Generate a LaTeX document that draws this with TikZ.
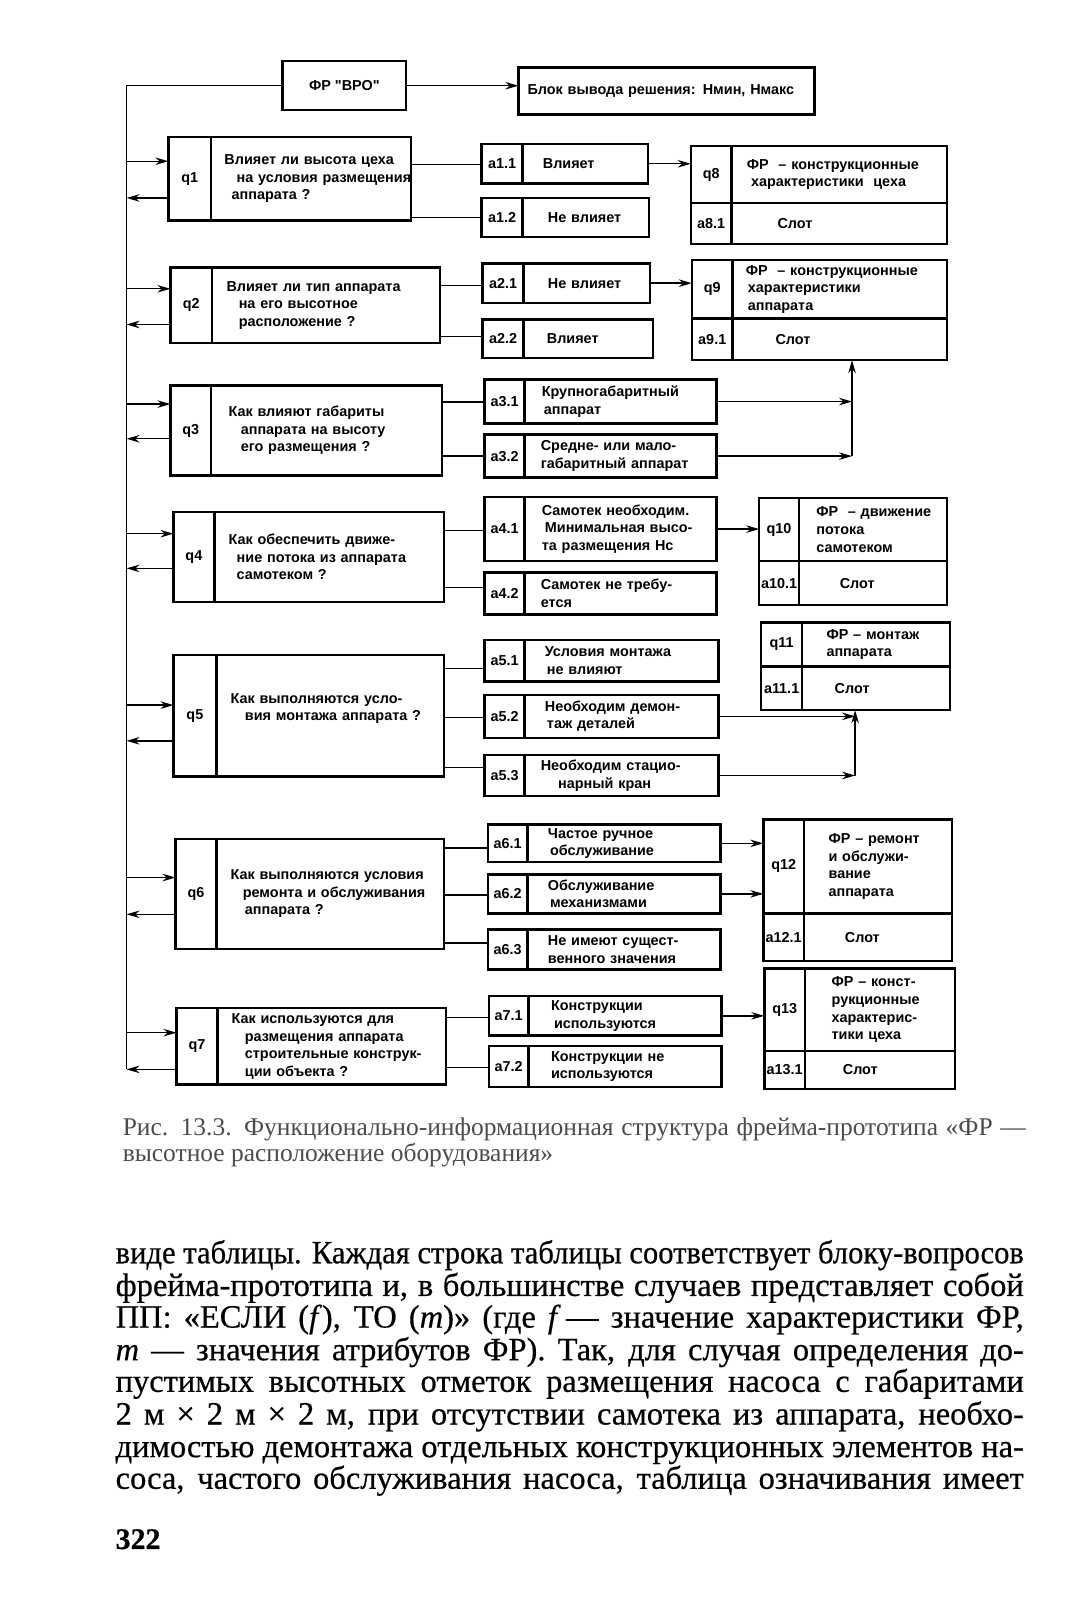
\documentclass[tikz,border=0pt]{standalone}
\usepackage{fontspec}
\usepackage{graphicx}
\setmainfont{Liberation Serif}
\newfontfamily\dgsans{Liberation Sans}
\newfontfamily\pagefont{Liberation Serif}[FakeBold=0.5]
\usetikzlibrary{arrows.meta, positioning}
\newlength\pxl \setlength\pxl{0.020414cm}
\newlength\bodyw \setlength\bodyw{18.17cm}
\newlength\capw \setlength\capw{18.07cm}
\newlength\linew
\newcommand\ix[1]{\hspace*{#1\pxl}}
\newcommand\jline[2]{\settowidth\linew{#2}\ifdim\linew>#1\resizebox{#1}{\height}{#2}\else\makebox[#1][s]{#2}\fi}
\tikzset{
	cell/.style   ={draw, line width=1.4pt, inner sep=0pt, outer sep=0pt, anchor=north west, font=\dgsans\bfseries\fontsize{8.2}{10}\selectfont},
	lbl/.style    ={cell, align=center},
	txt/.style    ={cell, align=left},
	sz/.style 2 args={minimum width=#1*\pxl, minimum height=#2*\pxl},
	tw/.style 2 args={text width=#1*\pxl, minimum height=#2*\pxl},
	wire/.style   ={line width=0.8pt},
	sig/.style    ={wire, -{Stealth[length=2.6mm, width=1.5mm]}},
	% page text
	bodyln/.style ={anchor=base west, inner sep=0pt, font=\pagefont\fontsize{18.5}{20}\selectfont},
	capln/.style  ={anchor=base west, inner sep=0pt, text=black!70, font=\fontsize{14.5}{16}\selectfont},
}
\begin{document}
\begin{tikzpicture}[x=0.020414cm, y=-0.020414cm]
	\fill[white] (0,0) rectangle (1065,1568);
	\useasboundingbox (0,0) rectangle (1065,1568);
	% head
	\node[lbl, sz={121}{48}] (vro) at (277,60) {ФР "ВРО"};
	\node[txt, tw={290}{46}] (blk) at (508,66) {\ix{9}Блок вывода решения: Нмин, Нмакс};
	% questions
	\node[lbl, sz={42}{82}] (q1) at (165,134) {q1};
	\node[txt, tw={196}{82}, right=0pt of q1] (q1t) {\ix{13}Влияет ли высота цеха\\\ix{25}на условия размещения\\\ix{20}аппарата ?};
	\node[lbl, sz={41}{74}] (q2) at (167,262) {q2};
	\node[txt, tw={223}{74}, right=0pt of q2] (q2t) {\ix{14}Влияет ли тип аппарата\\\ix{26}на его высотное\\\ix{26}расположение ?};
	\node[lbl, sz={40}{88}] (q3) at (167,378) {q3};
	\node[txt, tw={226}{88}, right=0pt of q3] (q3t) {\ix{17}Как влияют габариты\\\ix{29}аппарата на высоту\\\ix{29}его размещения ?};
	\node[lbl, sz={40}{88}] (q4) at (170,502) {q4};
	\node[txt, tw={225}{88}, right=0pt of q4] (q4t) {\ix{14}Как обеспечить движе-\\\ix{22}ние потока из аппарата\\\ix{22}самотеком ?};
	\node[lbl, sz={42}{119}] (q5) at (170,642) {q5};
	\node[txt, tw={223}{119}, right=0pt of q5] (q5t) {\ix{14}Как выполняются усло-\\\ix{28}вия монтажа аппарата ?\\\mbox{}};
	\node[lbl, sz={40}{108}] (q6) at (172,822) {q6};
	\node[txt, tw={223}{108}, right=0pt of q6] (q6t) {\ix{14}Как выполняются условия\\\ix{26}ремонта и обслуживания\\\ix{28}аппарата ?};
	\node[lbl, sz={40}{75}] (q7) at (173,988) {q7};
	\node[txt, tw={224}{75}, right=0pt of q7] (q7t) {\ix{14}Как используются для\\\ix{27}размещения аппарата\\\ix{27}строительные конструк-\\\ix{27}ции объекта ?};
	% answers
	\node[lbl, sz={40}{39}] (a11) at (472,141) {a1.1};
	\node[txt, tw={123}{39}, right=0pt of a11] (a11t) {\ix{20}Влияет};
	\node[lbl, sz={40}{38}] (a12) at (472,194) {a1.2};
	\node[txt, tw={124}{38}, right=0pt of a12] (a12t) {\ix{25}Не влияет};
	\node[lbl, sz={40}{39}] (a21) at (473,258) {a2.1};
	\node[txt, tw={124}{39}, right=0pt of a21] (a21t) {\ix{24}Не влияет};
	\node[lbl, sz={40}{38}] (a22) at (473,313) {a2.2};
	\node[txt, tw={127}{38}, right=0pt of a22] (a22t) {\ix{23}Влияет};
	\node[lbl, sz={39}{43}] (a31) at (475,372) {a3.1};
	\node[txt, tw={188}{43}, right=0pt of a31] (a31t) {\ix{17}Крупногабаритный\\\ix{19}аппарат};
	\node[lbl, sz={39}{42}] (a32) at (475,426) {a3.2};
	\node[txt, tw={188}{42}, right=0pt of a32] (a32t) {\ix{16}Средне- или мало-\\\ix{16}габаритный аппарат};
	\node[lbl, sz={39}{63}] (a41) at (475,487) {a4.1};
	\node[txt, tw={188}{63}, right=0pt of a41] (a41t) {\ix{17}Самотек необходим.\\\ix{20}Минимальная высо-\\\ix{17}та размещения Нс};
	\node[lbl, sz={39}{41}] (a42) at (475,561) {a4.2};
	\node[txt, tw={188}{41}, right=0pt of a42] (a42t) {\ix{16}Самотек не требу-\\\ix{16}ется};
	\node[lbl, sz={39}{41}] (a51) at (475,627) {a5.1};
	\node[txt, tw={190}{41}, right=0pt of a51] (a51t) {\ix{20}Условия монтажа\\\ix{22}не влияют};
	\node[lbl, sz={39}{42}] (a52) at (475,681) {a5.2};
	\node[txt, tw={190}{42}, right=0pt of a52] (a52t) {\ix{20}Необходим демон-\\\ix{22}таж деталей};
	\node[lbl, sz={39}{40}] (a53) at (475,740) {a5.3};
	\node[txt, tw={190}{40}, right=0pt of a53] (a53t) {\ix{16}Необходим стацио-\\\ix{33}нарный кран};
	\node[lbl, sz={39}{37}] (a61) at (478,808) {a6.1};
	\node[txt, tw={189}{37}, right=0pt of a61] (a61t) {\ix{20}Частое ручное\\\ix{22}обслуживание};
	\node[lbl, sz={39}{38}] (a62) at (478,857) {a6.2};
	\node[txt, tw={189}{38}, right=0pt of a62] (a62t) {\ix{20}Обслуживание\\\ix{22}механизмами};
	\node[lbl, sz={39}{39}] (a63) at (478,911) {a6.3};
	\node[txt, tw={189}{39}, right=0pt of a63] (a63t) {\ix{20}Не имеют сущест-\\\ix{20}венного значения};
	\node[lbl, sz={39}{39}] (a71) at (479,976) {a7.1};
	\node[txt, tw={189}{39}, right=0pt of a71] (a71t) {\ix{22}Конструкции\\\ix{25}используются};
	\node[lbl, sz={39}{40}] (a72) at (479,1025) {a7.2};
	\node[txt, tw={189}{40}, right=0pt of a72] (a72t) {\ix{22}Конструкции не\\\ix{22}используются};
	% frames
	\node[lbl, sz={40}{56}] (q8) at (677,143) {q8};
	\node[txt, tw={211}{56}, right=0pt of q8] (q8t) {\ix{15}ФР\ \ – конструкционные\\\ix{19}характеристики\ \ цеха};
	\node[lbl, sz={40}{40}, below=0pt of q8] (a81) {a8.1};
	\node[txt, tw={211}{40}, right=0pt of a81] (s81) {\ix{45}Слот};
	\node[lbl, sz={40}{57}] (q9) at (678,255) {q9};
	\node[txt, tw={210}{57}, right=0pt of q9] (q9t) {\ix{13}ФР\ \ – конструкционные\\\ix{15}характеристики\\\ix{15}аппарата};
	\node[lbl, sz={40}{41}, below=0pt of q9] (a91) {a9.1};
	\node[txt, tw={210}{41}, right=0pt of a91] (s91) {\ix{42}Слот};
	\node[lbl, sz={39}{62}] (q10) at (744,488) {q10};
	\node[txt, tw={145}{62}, right=0pt of q10] (q10t) {\ix{17}ФР\ \ – движение\\\ix{17}потока\\\ix{17}самотеком};
	\node[lbl, sz={39}{43}, below=0pt of q10] (a101) {a10.1};
	\node[txt, tw={145}{43}, right=0pt of a101] (s101) {\ix{40}Слот};
	\node[lbl, sz={40}{43}] (q11) at (746,610) {q11};
	\node[txt, tw={145}{43}, right=0pt of q11] (q11t) {\ix{24}ФР – монтаж\\\ix{24}аппарата};
	\node[lbl, sz={40}{43}, below=0pt of q11] (a111) {a11.1};
	\node[txt, tw={145}{43}, right=0pt of a111] (s111) {\ix{32}Слот};
	\node[lbl, sz={40}{92}] (q12) at (748,803) {q12};
	\node[txt, tw={145}{92}, right=0pt of q12] (q12t) {\ix{24}ФР – ремонт\\\ix{24}и обслужи-\\\ix{24}вание\\\ix{24}аппарата};
	\node[lbl, sz={40}{47}, below=0pt of q12] (a121) {a12.1};
	\node[txt, tw={145}{47}, right=0pt of a121] (s121) {\ix{40}Слот};
	\node[lbl, sz={40}{81}] (q13) at (749,949) {q13};
	\node[txt, tw={147}{81}, right=0pt of q13] (q13t) {\ix{26}ФР – конст-\\\ix{26}рукционные\\\ix{26}характерис-\\\ix{26}тики цеха};
	\node[lbl, sz={40}{37}, below=0pt of q13] (a131) {a13.1};
	\node[txt, tw={147}{37}, right=0pt of a131] (s131) {\ix{37}Слот};
	% connectors
	\coordinate (bus) at (124,84);
	\coordinate (busend) at (124,1048);
	\draw[wire] (vro.west) -- (bus) -- (busend);
	\draw[sig] (vro.east) -- (vro.east -| blk.west);
	\foreach \q/\yi/\yo in {q1/158/194, q2/283/318, q3/396/430, q4/523/557, q5/691/726, q6/860/896, q7/1012/1048} {
		\draw[sig] (bus |- 0,\yi) -- (\q.west |- 0,\yi);
		\draw[sig] (\q.west |- 0,\yo) -- (bus |- 0,\yo);
	}
	\foreach \q/\a/\y in {q1t/a11/161, q1t/a12/213, q2t/a21/280, q2t/a22/330, q3t/a31/394, q3t/a32/447, q4t/a41/520, q4t/a42/576, q5t/a51/655, q5t/a52/703, q5t/a53/752, q6t/a61/831, q6t/a62/877, q6t/a63/924, q7t/a71/997, q7t/a72/1046}
		\draw[wire] (\q.east |- 0,\y) -- (\a.west |- 0,\y);
	\foreach \a/\f in {a11t/q8, a21t/q9, a41t/q10, a61t/q12, a62t/q12, a71t/q13}
		\draw[sig] (\a.east) -- (\a.east -| \f.west);
	\coordinate (m9) at (835,447);
	\draw[sig] (a31t.east) -- (a31t.east -| m9);
	\draw[sig] (a32t.east) -- (m9);
	\draw[sig] (m9) -- (m9 |- s91.south);
	\coordinate (m11) at (838,760);
	\draw[sig] (a52t.east) -- (a52t.east -| m11);
	\draw[sig] (a53t.east) -- (m11);
	\draw[sig] (m11) -- (m11 |- s111.south);
	% caption
	\node[capln] (cap1) at (120,1113) {\jline{\capw}{Рис. 13.3. Функционально-информационная структура фрейма-прототипа «ФР —}};
	\node[capln] (cap2) at (120,1138) {высотное расположение оборудования»};
	% body text
	\node[bodyln] (l1) at (113,1238) {\jline{\bodyw}{виде таблицы. Каждая строка таблицы соответствует блоку-вопросов}};
	\node[bodyln] (l2) at (113,1270) {\jline{\bodyw}{фрейма-прототипа и, в большинстве случаев представляет собой}};
	\node[bodyln] (l3) at (113,1301) {\jline{\bodyw}{ПП: «ЕСЛИ (\textit{f}), ТО (\textit{m})» (где \textit{f}\,— значение характеристики ФР,}};
	\node[bodyln] (l4) at (113,1333) {\jline{\bodyw}{\textit{m} — значения атрибутов ФР). Так, для случая определения до-}};
	\node[bodyln] (l5) at (113,1364) {\jline{\bodyw}{пустимых высотных отметок размещения насоса с габаритами}};
	\node[bodyln] (l6) at (113,1396) {\jline{\bodyw}{2 м × 2 м × 2 м, при отсутствии самотека из аппарата, необхо-}};
	\node[bodyln] (l7) at (113,1428) {\jline{\bodyw}{димостью демонтажа отдельных конструкционных элементов на-}};
	\node[bodyln] (l8) at (113,1459) {\jline{\bodyw}{соса, частого обслуживания насоса, таблица означивания имеет}};
	\node[bodyln, font=\pagefont\bfseries\fontsize{17}{20}\selectfont] (pg) at (113,1518) {322};
\end{tikzpicture}
\end{document}
